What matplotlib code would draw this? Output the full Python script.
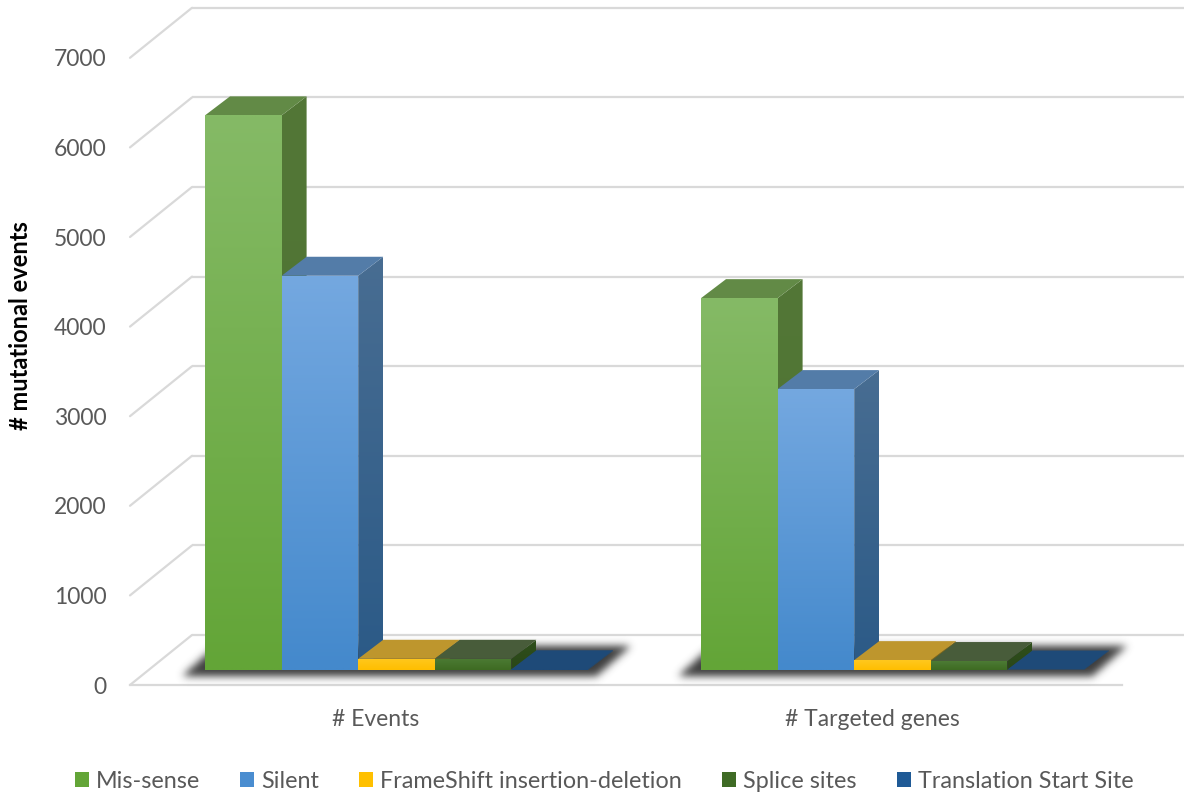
import numpy as np
import matplotlib
matplotlib.use("Agg")
import matplotlib.pyplot as plt
from matplotlib.patches import Polygon, Patch
from matplotlib.path import Path

plt.rcParams["font.family"] = ["Lato", "DejaVu Sans"]

# Chart data
categories = ["# Events", "# Targeted genes"]
series_names = ["Mis-sense", "Silent", "FrameShift insertion-deletion",
                "Splice sites", "Translation Start Site"]
mis_sense = [6190, 4150]
silent = [4400, 3135]
frameshift = [125, 110]
splice_sites = [125, 100]
translation_start = [8, 5]
series_values = [mis_sense, silent, frameshift, splice_sites, translation_start]
value_ticks = [0, 1000, 2000, 3000, 4000, 5000, 6000, 7000]

# Face colours per series: gradient top, gradient bottom, side top, side bottom, roof, legend
front_top = ["#85BA66", "#74A8E0", "#FFC81E", "#4C7B34", "#1E4A78"]
front_bottom = ["#63A537", "#4489CC", "#FFBE00", "#3E6B22", "#1E4A78"]
side_top = ["#537737", "#486D92", "#8A6D10", "#2F4F1C", "#1E4A78"]
side_bottom = ["#4C7330", "#2B5A87", "#8A6D10", "#2A4718", "#1E4A78"]
roof = ["#628A46", "#537CA8", "#BE962D", "#485C3A", "#1E4A78"]
legend_colors = ["#63A537", "#4A8DD0", "#FFC000", "#3F6B25", "#1F5A96"]

GRID = "#D9D9D9"
TEXT = "#595959"

# Scale factors of the projected 3-D frame
PX_PER_CAT = 496.0
PX_PER_UNIT = 0.0896
BAR_W = 76.6 / PX_PER_CAT
BAR_DX, BAR_DY = 25 / PX_PER_CAT, 19 / PX_PER_UNIT
WALL_X = (192 - 396.5) / PX_PER_CAT
FRONT_X = (130 - 396.5) / PX_PER_CAT
FLOOR_FRONT_END = (1122 - 396.5) / PX_PER_CAT
BACK_END = (1184 - 396.5) / PX_PER_CAT
BACK_DY = 35 / PX_PER_UNIT
FRONT_DY = -15 / PX_PER_UNIT
LABEL_SHIFT = -20.5 / PX_PER_CAT

W, H = 1184, 797
fig = plt.figure(figsize=(W / 100, H / 100), dpi=100, facecolor="white")
ax = fig.add_axes([115 / W, (H - 697) / H, (W - 115) / W, 697 / H])
xlim = ((115 - 396.5) / PX_PER_CAT, BACK_END)
ylim = (-27 / PX_PER_UNIT, 670 / PX_PER_UNIT)


def gradient(poly_xy, top, bottom, z):
    """Fill a polygon with a vertical colour gradient."""
    xy = np.asarray(poly_xy)
    c0 = np.array(matplotlib.colors.to_rgb(top))
    c1 = np.array(matplotlib.colors.to_rgb(bottom))
    t = np.linspace(0, 1, 128)[:, None, None]
    img = c0[None, None, :] * (1 - t) + c1[None, None, :] * t
    im = ax.imshow(img, extent=(xy[:, 0].min(), xy[:, 0].max(),
                                xy[:, 1].min(), xy[:, 1].max()),
                   aspect="auto", origin="upper", zorder=z, interpolation="bilinear")
    clip = Polygon(xy, closed=True, transform=ax.transData)
    im.set_clip_path(clip)


def soft_shadow(group_x, z, sigma=4.0, margin=22):
    """Gaussian-blurred drop shadow lying on the floor beneath a bar group."""
    n = len(series_values)
    left = (group_x - n * BAR_W / 2) * PX_PER_CAT
    right = (group_x + n * BAR_W / 2) * PX_PER_CAT
    # outline in pixels relative to the bar baseline, y pointing up
    outline = np.array([(left - 24, -7), (right + 8, -7), (right + 43, 24), (left + 10, 24)])
    x0, x1 = outline[:, 0].min() - margin, outline[:, 0].max() + margin
    y0, y1 = outline[:, 1].min() - margin, outline[:, 1].max() + margin
    xs = np.arange(x0, x1 + 1)
    ys = np.arange(y0, y1 + 1)
    gx, gy = np.meshgrid(xs, ys)
    mask = Path(outline).contains_points(np.c_[gx.ravel(), gy.ravel()]).reshape(gx.shape).astype(float)
    kx = np.arange(-16, 17)
    kernel = np.exp(-kx ** 2 / (2 * sigma ** 2))
    kernel /= kernel.sum()
    mask = np.apply_along_axis(lambda r: np.convolve(r, kernel, mode="same"), 0, mask)
    mask = np.apply_along_axis(lambda r: np.convolve(r, kernel, mode="same"), 1, mask)
    rgba = np.zeros(mask.shape + (4,))
    rgba[..., :3] = 0.24
    rgba[..., 3] = mask
    ax.imshow(rgba, extent=(x0 / PX_PER_CAT, x1 / PX_PER_CAT, y0 / PX_PER_UNIT, y1 / PX_PER_UNIT),
              origin="lower", aspect="auto", zorder=z, interpolation="bilinear")


# Back wall and left wall gridlines
for v in value_ticks:
    y_back = v + BACK_DY
    y_front = v + FRONT_DY
    ax.plot([WALL_X, BACK_END], [y_back, y_back], color=GRID, lw=1.6, zorder=1,
            solid_capstyle="butt")
    ax.plot([FRONT_X, WALL_X], [y_front, y_back], color=GRID, lw=1.6, zorder=1,
            solid_capstyle="round")
ax.plot([FRONT_X, FLOOR_FRONT_END], [FRONT_DY, FRONT_DY], color=GRID, lw=1.6, zorder=1)

# Bars
z = 3
for g in range(len(categories)):
    soft_shadow(g, 2)
    n = len(series_values)
    for s in range(n):
        v = series_values[s][g]
        x0 = g + (s - n / 2) * BAR_W
        x1 = x0 + BAR_W
        gradient([(x1, 0), (x1 + BAR_DX, BAR_DY), (x1 + BAR_DX, v + BAR_DY), (x1, v)],
                 side_top[s], side_bottom[s], z)
        ax.add_patch(Polygon([(x0, v), (x1, v), (x1 + BAR_DX, v + BAR_DY), (x0 + BAR_DX, v + BAR_DY)],
                             closed=True, facecolor=roof[s], edgecolor="none", zorder=z + 0.1))
        gradient([(x0, 0), (x1, 0), (x1, v), (x0, v)], front_top[s], front_bottom[s], z + 0.2)
        z += 1

ax.set_xlim(xlim)
ax.set_ylim(ylim)

# Axes furniture
for spine in ax.spines.values():
    spine.set_visible(False)
ax.patch.set_visible(False)
ax.set_yticks([v + FRONT_DY for v in value_ticks], [str(v) for v in value_ticks])
ax.set_xticks([g + LABEL_SHIFT for g in range(len(categories))], categories)
ax.tick_params(axis="y", length=0, pad=6, labelsize=16.5, labelcolor=TEXT)
ax.tick_params(axis="x", length=0, pad=9, labelsize=16.5, labelcolor=TEXT)

fig.text(21 / W, 1 - 326 / H, "# mutational events", rotation=90, ha="center", va="center",
         fontsize=17, fontweight="bold", color="black")

handles = [Patch(facecolor=c, edgecolor="none", label=name)
           for c, name in zip(legend_colors, series_names)]
fig.legend(handles=handles, loc="center", bbox_to_anchor=(604 / W, 1 - 781.5 / H), ncol=5,
           frameon=False, fontsize=16.8, labelcolor=TEXT, handlelength=0.6, handleheight=0.6,
           handletextpad=0.3, columnspacing=1.72, borderpad=0, borderaxespad=0)

fig.savefig("out.png", dpi=100)
